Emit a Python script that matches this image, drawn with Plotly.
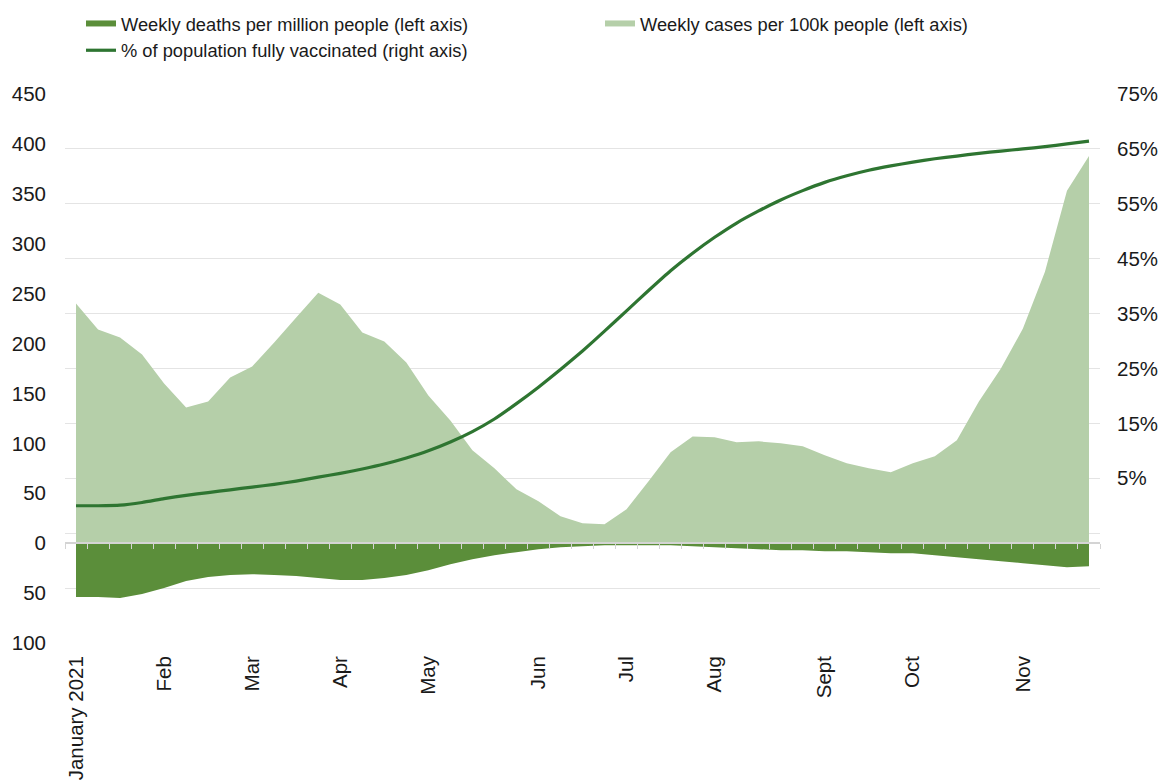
import pandas as pd
import plotly.graph_objects as go

# Weekly data, week starting 10 Jan 2021
weeks = pd.date_range("2021-01-10", periods=47, freq="7D")

cases_per_100k = [
    240, 214, 206, 189, 160, 136, 142, 166, 177, 201,
    226, 251, 239, 211, 202, 181, 148, 123, 93, 75,
    54, 42, 27, 20, 19, 34, 62, 91, 107, 106,
    101, 102, 100, 97, 88, 80, 75, 71, 80, 87,
    103, 142, 175, 215, 272, 353, 388,
]
deaths_per_million = [
    54, 54, 55, 51, 45, 38, 34, 32, 31, 32,
    33, 35, 37, 37, 35, 32, 27, 21, 16, 12,
    9, 6, 4, 3, 2, 2, 2, 2, 3, 4,
    5, 6, 7, 7, 8, 8, 9, 10, 10, 12,
    14, 16, 18, 20, 22, 24, 23,
]
pct_vaccinated = [
    0.0, 0.0, 0.1, 0.6, 1.3, 1.9, 2.4, 2.9, 3.4, 3.9,
    4.5, 5.2, 5.9, 6.7, 7.6, 8.7, 10.0, 11.6, 13.5, 15.8,
    18.6, 21.6, 24.8, 28.2, 31.8, 35.5, 39.2, 42.8, 46.0, 48.9,
    51.5, 53.7, 55.7, 57.4, 58.9, 60.1, 61.1, 61.9, 62.6, 63.2,
    63.7, 64.2, 64.6, 65.0, 65.4, 65.9, 66.4,
]

month_ticks = [
    "2021-01-10", "2021-02-07", "2021-03-07", "2021-04-04", "2021-05-02",
    "2021-06-06", "2021-07-04", "2021-08-01", "2021-09-05", "2021-10-03",
    "2021-11-07",
]
month_labels = [
    "January 2021", "Feb", "Mar", "Apr", "May", "Jun", "Jul", "Aug",
    "Sept", "Oct", "Nov",
]

left_ticks = [-100, -50, 0, 50, 100, 150, 200, 250, 300, 350, 400, 450]
right_ticks = [-25, -15, -5, 5, 15, 25, 35, 45, 55, 65, 75]

FONT = "Liberation Sans, Arial, sans-serif"
LIGHT = "#b5cfa9"
DARK = "#5b8e3a"
LINE = "#2e7531"
GRID = "#e4e4e4"
AXIS = "#d4d4d4"

half_week = pd.Timedelta(hours=84)
x_range = [weeks[0] - half_week, weeks[-1] + half_week]
# category boundaries (tick marks on the zero line)
boundaries = [w - half_week for w in weeks] + [weeks[-1] + half_week]

fig = go.Figure()
fig.add_trace(
    go.Scatter(
        x=weeks,
        y=[-d for d in deaths_per_million],
        name="Weekly deaths per million people (left axis)",
        mode="none",
        fill="tozeroy",
        fillcolor=DARK,
    )
)
fig.add_trace(
    go.Scatter(
        x=weeks,
        y=cases_per_100k,
        name="Weekly cases per 100k people (left axis)",
        mode="none",
        fill="tozeroy",
        fillcolor=LIGHT,
    )
)
fig.add_trace(
    go.Scatter(
        x=weeks,
        y=pct_vaccinated,
        name="% of population fully vaccinated (right axis)",
        mode="lines",
        line=dict(color=LINE, width=3.2, shape="spline", smoothing=0.5),
        yaxis="y2",
    )
)
# empty trace so the zero-line axis (x2) gets drawn
fig.add_trace(
    go.Scatter(
        x=[weeks[0]],
        y=[None],
        xaxis="x2",
        showlegend=False,
        hoverinfo="skip",
    )
)

# page body has an 8px margin, so the figure is 8px smaller than the window
fig.update_layout(
    width=1159,
    height=772,
    margin=dict(l=57, r=67, t=86, b=137, autoexpand=False),
    plot_bgcolor="white",
    paper_bgcolor="white",
    font=dict(family=FONT, size=20.5, color="#1a1a1a"),
    showlegend=True,
    legend=dict(
        orientation="h",
        xref="container",
        x=73 / 1159,
        y=1.162,
        xanchor="left",
        yanchor="top",
        entrywidth=474,
        entrywidthmode="pixels",
        traceorder="normal",
        font=dict(size=18.3, color="#1a1a1a"),
    ),
    xaxis=dict(
        type="date",
        range=x_range,
        tickvals=month_ticks,
        ticktext=month_labels,
        tickangle=-90,
        showgrid=False,
        showline=False,
        zeroline=False,
        ticks="",
        ticklabelstandoff=8,
    ),
    xaxis2=dict(
        type="date",
        overlaying="x",
        anchor="free",
        position=100 / 550,
        range=x_range,
        tickvals=boundaries,
        showticklabels=False,
        ticks="outside",
        ticklen=5,
        tickcolor=AXIS,
        showline=True,
        linecolor=AXIS,
        linewidth=1.5,
        showgrid=False,
        zeroline=False,
    ),
    yaxis=dict(
        range=[-100, 450],
        tickvals=left_ticks,
        ticktext=[str(abs(v)) for v in left_ticks],
        showgrid=False,
        zeroline=False,
        showline=False,
        ticks="",
        ticklabelstandoff=18,
    ),
    yaxis2=dict(
        range=[-25, 75],
        overlaying="y",
        side="right",
        tickvals=right_ticks,
        ticktext=[f"{v}%" if v > 0 else "" for v in right_ticks],
        showgrid=True,
        gridcolor=GRID,
        gridwidth=1,
        zeroline=False,
        showline=False,
        ticks="",
        ticklabelstandoff=16,
    ),
)

fig.write_html("out.html")
